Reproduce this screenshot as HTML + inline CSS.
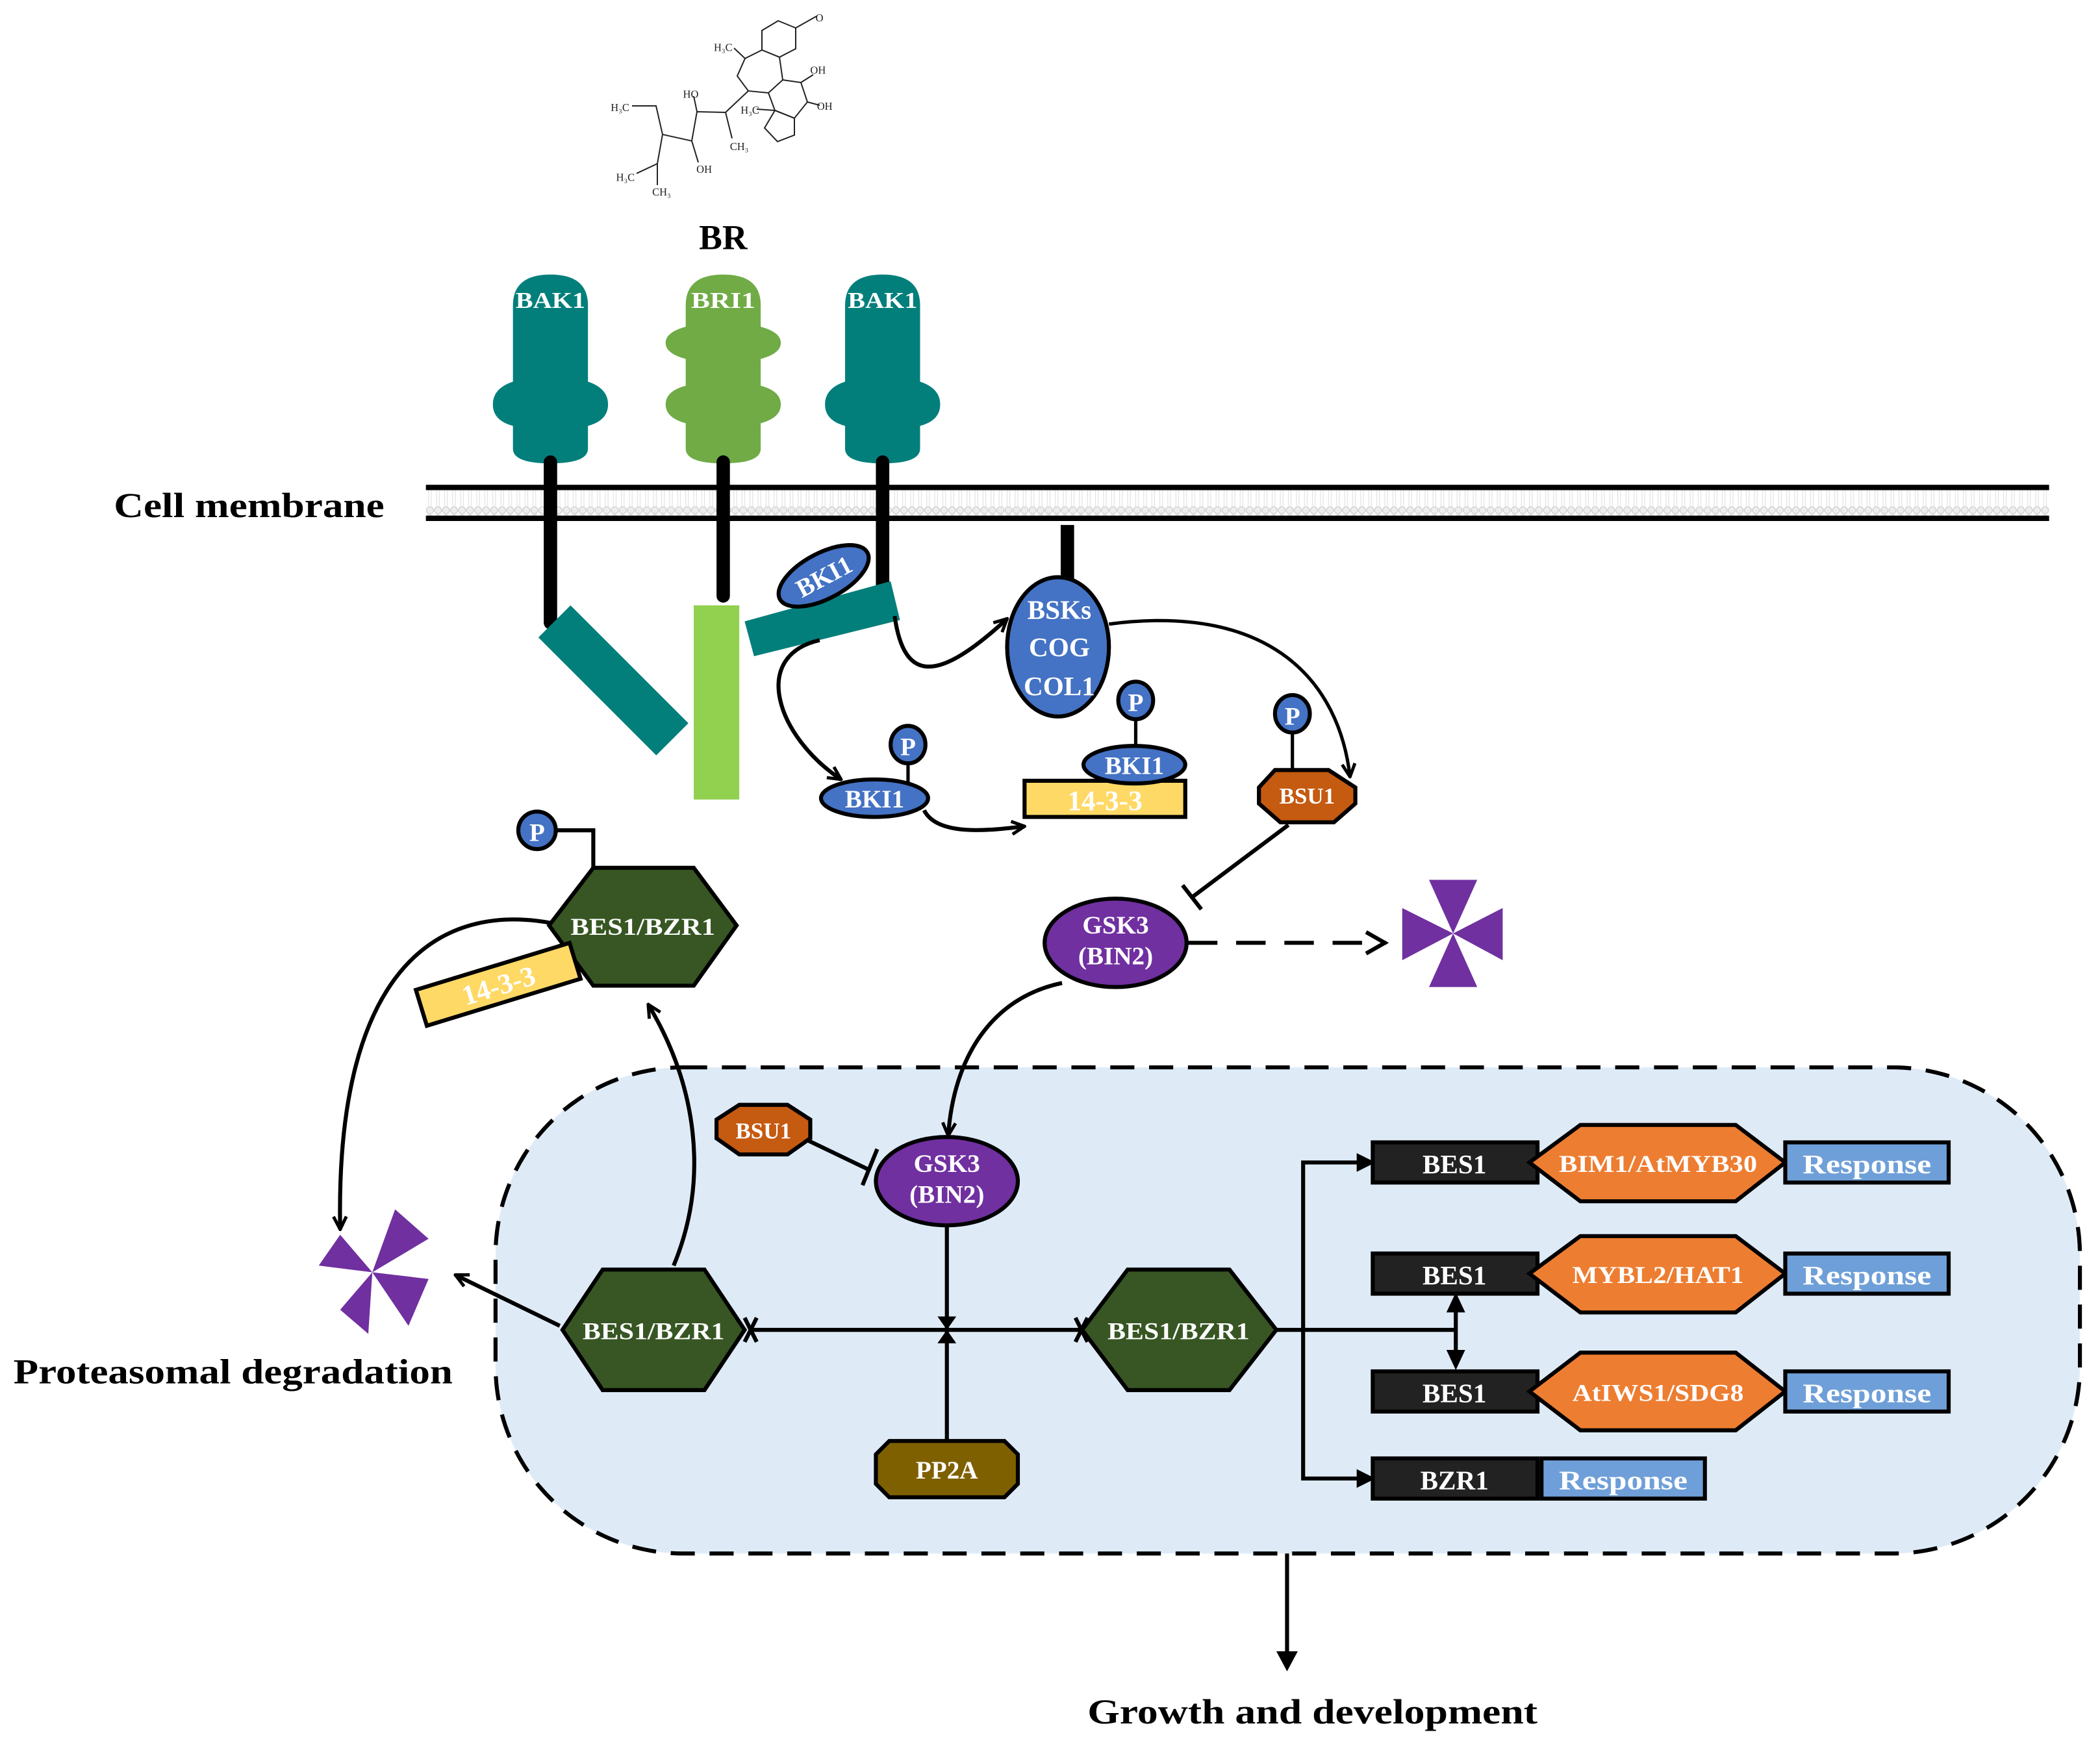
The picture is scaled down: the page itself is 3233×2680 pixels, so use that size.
<!DOCTYPE html>
<html><head><meta charset="utf-8"><style>
html,body{margin:0;padding:0;background:#fff;}
svg{display:block;}
text{font-family:"Liberation Serif",serif;font-weight:bold;}
</style></head><body>
<svg width="3233" height="2680" viewBox="0 0 1568 1300" preserveAspectRatio="none" xmlns="http://www.w3.org/2000/svg">
<defs>
<marker id="ar" viewBox="0 0 10 10" refX="9" refY="5" markerWidth="12" markerHeight="12" orient="auto" markerUnits="userSpaceOnUse"><path d="M1,1 L9,5 L1,9" fill="none" stroke="#000" stroke-width="2"/></marker>
<pattern id="lip" width="6" height="24" patternUnits="userSpaceOnUse"><circle cx="3" cy="3" r="2.6" fill="#eee" stroke="#ccc" stroke-width="0.6"/><circle cx="3" cy="21" r="2.6" fill="#eee" stroke="#ccc" stroke-width="0.6"/><line x1="2" y1="5" x2="2" y2="19" stroke="#ddd" stroke-width="0.5"/><line x1="4" y1="5" x2="4" y2="19" stroke="#ddd" stroke-width="0.5"/></pattern>
</defs>

<!-- nucleus -->
<rect x="370" y="797" width="1183" height="363" rx="140" fill="#deebf7" stroke="#000" stroke-width="3" stroke-dasharray="18,11"/>

<!-- molecule -->
<g transform="scale(0.485)" fill="none" stroke="#222" stroke-width="2">
<polygon points="1198,32 1225,43 1225,75 1200,88 1173,77 1173,47"/>
<line x1="1225" y1="43" x2="1257" y2="25"/>
<polyline points="1173,77 1147,90 1135,117 1152,140 1183,143 1205,123 1200,88"/>
<polyline points="1205,123 1233,127 1243,157 1223,182 1193,170 1183,143"/>
<polyline points="1193,170 1223,182 1223,208 1197,218 1177,197 1193,170"/>
<line x1="1147" y1="90" x2="1130" y2="74"/>
<line x1="1193" y1="170" x2="1165" y2="168"/>
<polyline points="1152,140 1117,173 1127,213"/>
<polyline points="1117,173 1073,172 1065,217 1020,207 1010,163 973,163"/>
<line x1="1073" y1="172" x2="1068" y2="148"/>
<line x1="1065" y1="217" x2="1075" y2="250"/>
<polyline points="1020,207 1012,252 980,267"/>
<line x1="1012" y1="252" x2="1012" y2="285"/>
<line x1="1233" y1="127" x2="1252" y2="115"/>
<line x1="1243" y1="157" x2="1262" y2="162"/>
</g>
<g font-size="8" fill="#222">
<text x="609" y="16" style="font-weight:normal">O</text>
<text x="533" y="38" style="font-weight:normal">H₃C</text>
<text x="605" y="55" style="font-weight:normal">OH</text>
<text x="610" y="82" style="font-weight:normal">OH</text>
<text x="553" y="85" style="font-weight:normal">H₃C</text>
<text x="510" y="73" style="font-weight:normal">HO</text>
<text x="456" y="83" style="font-weight:normal">H₃C</text>
<text x="545" y="112" style="font-weight:normal">CH₃</text>
<text x="520" y="129" style="font-weight:normal">OH</text>
<text x="460" y="135" style="font-weight:normal">H₃C</text>
<text x="487" y="146" style="font-weight:normal">CH₃</text>
</g>

<text x="540" y="186" font-size="26" text-anchor="middle">BR</text>

<!-- membrane -->
<rect x="318" y="364" width="1212" height="24" fill="url(#lip)"/>
<line x1="318" y1="364" x2="1530" y2="364" stroke="#000" stroke-width="4"/>
<line x1="318" y1="387" x2="1530" y2="387" stroke="#000" stroke-width="4"/>
<text x="85" y="386" font-size="26" textLength="202" lengthAdjust="spacingAndGlyphs">Cell membrane</text>

<!-- receptors -->
<g fill="#037f7b">
<path d="M383,228 Q383,205 411,205 Q439,205 439,228 L439,285 Q454,290 454,302 Q454,314 439,318 L439,335 Q439,346 411,346 Q383,346 383,335 L383,318 Q368,314 368,302 Q368,290 383,285 Z"/>
<path d="M631,228 Q631,205 659,205 Q687,205 687,228 L687,285 Q702,290 702,302 Q702,314 687,318 L687,335 Q687,346 659,346 Q631,346 631,335 L631,318 Q616,314 616,302 Q616,290 631,285 Z"/>
</g>
<path fill="#70ab46" d="M512,228 Q512,205 540,205 Q568,205 568,228 L568,244 Q583,248 583,256 Q583,264 568,268 L568,288 Q583,292 583,302 Q583,312 568,316 L568,335 Q568,346 540,346 Q512,346 512,335 L512,316 Q497,312 497,302 Q497,292 512,288 L512,268 Q497,264 497,256 Q497,248 512,244 Z"/>
<g fill="#fff" font-size="17" text-anchor="middle">
<text x="411" y="230" textLength="52" lengthAdjust="spacingAndGlyphs">BAK1</text>
<text x="540" y="230" textLength="48" lengthAdjust="spacingAndGlyphs">BRI1</text>
<text x="659" y="230" textLength="52" lengthAdjust="spacingAndGlyphs">BAK1</text>
</g>
<g stroke="#000" stroke-width="10" stroke-linecap="round">
<line x1="411" y1="345" x2="411" y2="465"/>
<line x1="540" y1="345" x2="540" y2="445"/>
<line x1="659" y1="345" x2="659" y2="438"/>
<line x1="797" y1="392" x2="797" y2="432" stroke-linecap="butt"/>
</g>
<polygon points="402,476 426,452 514,540 490,564" fill="#037f7b"/>
<rect x="518" y="452" width="34" height="145" fill="#92d050"/>
<polygon points="556,464 665,434 672,463 563,490" fill="#037f7b"/>
<ellipse cx="615" cy="430" rx="37" ry="17" transform="rotate(-28 615 430)" fill="#4472c4" stroke="#000" stroke-width="3"/>
<text x="615" y="437" font-size="19" fill="#fff" text-anchor="middle" transform="rotate(-28 615 430)">BKI1</text>

<!-- BSKs -->
<ellipse cx="790" cy="483" rx="38" ry="52" fill="#4472c4" stroke="#000" stroke-width="3"/>
<g fill="#fff" font-size="20" text-anchor="middle">
<text x="791" y="462">BSKs</text><text x="791" y="490">COG</text><text x="791" y="519">COL1</text>
</g>

<g fill="none" stroke="#000" stroke-width="3">
<path d="M668,460 C675,510 700,510 752,462" marker-end="url(#ar)"/>
<path d="M612,478 C560,490 580,550 628,582" marker-end="url(#ar)"/>
<path d="M690,605 C700,625 740,620 765,617" marker-end="url(#ar)"/>
<path d="M828,466 C950,450 1000,510 1008,580" marker-end="url(#ar)" stroke-width="2.5"/>
<line x1="962" y1="616" x2="890" y2="670"/>
<line x1="883" y1="661" x2="897" y2="679"/>
<path d="M887,704 L1035,704" stroke-dasharray="22,14"/>
<path d="M1020,696 L1034,704 L1020,712"/>
<path d="M793,734 C740,745 712,790 708,848" marker-end="url(#ar)"/>
</g>

<!-- BKI1 P -->
<line x1="678" y1="565" x2="678" y2="585" stroke="#000" stroke-width="2.5"/>
<ellipse cx="678" cy="556" rx="13" ry="14" fill="#4472c4" stroke="#000" stroke-width="3"/>
<text x="678" y="564" font-size="19" fill="#fff" text-anchor="middle">P</text>
<ellipse cx="653" cy="596" rx="40" ry="14" fill="#4472c4" stroke="#000" stroke-width="3"/>
<text x="653" y="603" font-size="19" fill="#fff" text-anchor="middle">BKI1</text>

<rect x="765" y="583" width="120" height="27" fill="#ffd966" stroke="#000" stroke-width="3"/>
<text x="825" y="605" font-size="21" fill="#fff" text-anchor="middle">14-3-3</text>
<line x1="848" y1="535" x2="848" y2="560" stroke="#000" stroke-width="2.5"/>
<ellipse cx="848" cy="523" rx="13" ry="14" fill="#4472c4" stroke="#000" stroke-width="3"/>
<text x="848" y="531" font-size="19" fill="#fff" text-anchor="middle">P</text>
<ellipse cx="847" cy="571" rx="38" ry="14" fill="#4472c4" stroke="#000" stroke-width="3"/>
<text x="847" y="578" font-size="19" fill="#fff" text-anchor="middle">BKI1</text>

<!-- BSU1 top -->
<line x1="965" y1="545" x2="965" y2="578" stroke="#000" stroke-width="2.5"/>
<ellipse cx="965" cy="533" rx="13" ry="14" fill="#4472c4" stroke="#000" stroke-width="3"/>
<text x="965" y="541" font-size="19" fill="#fff" text-anchor="middle">P</text>
<polygon points="952,575 992,575 1012,588 1012,600 996,614 956,614 940,600 940,588" fill="#c55a11" stroke="#000" stroke-width="3"/>
<text x="976" y="600" font-size="17" fill="#fff" text-anchor="middle">BSU1</text>

<!-- GSK3 top -->
<ellipse cx="833" cy="704" rx="53" ry="33" fill="#7030a0" stroke="#000" stroke-width="3"/>
<text x="833" y="697" font-size="19" fill="#fff" text-anchor="middle">GSK3</text>
<text x="833" y="720" font-size="19" fill="#fff" text-anchor="middle">(BIN2)</text>

<!-- pinwheel right -->
<g fill="#7030a0">
<polygon points="1067,657 1103,657 1085,697"/>
<polygon points="1122,678 1122,717 1085,697"/>
<polygon points="1067,737 1103,737 1085,697"/>
<polygon points="1047,678 1047,717 1085,697"/>
</g>

<!-- upper BES1/BZR1 -->
<polyline points="401,620 443,620 443,650" fill="none" stroke="#000" stroke-width="3"/>
<ellipse cx="401" cy="620" rx="14" ry="14" fill="#4472c4" stroke="#000" stroke-width="3"/>
<text x="401" y="628" font-size="19" fill="#fff" text-anchor="middle">P</text>
<path d="M420,691 C330,670 250,720 254,918" fill="none" stroke="#000" stroke-width="3" marker-end="url(#ar)"/>
<polygon points="443,648 518,648 550,691 518,736 443,736 410,691" fill="#375623" stroke="#000" stroke-width="3"/>
<text x="480" y="698" font-size="18" fill="#fff" text-anchor="middle" textLength="108" lengthAdjust="spacingAndGlyphs">BES1/BZR1</text>
<g transform="rotate(-17 372 735)">
<rect x="312" y="721" width="120" height="28" fill="#ffd966" stroke="#000" stroke-width="3"/>
<text x="372" y="743" font-size="21" fill="#fff" text-anchor="middle">14-3-3</text>
</g>

<!-- left pinwheel -->
<g fill="#7030a0">
<polygon points="254,922 238,945 278,950"/>
<polygon points="295,903 320,925 278,950"/>
<polygon points="320,955 305,990 278,950"/>
<polygon points="254,978 275,996 278,950"/>
</g>
<text x="10" y="1033" font-size="26" textLength="328" lengthAdjust="spacingAndGlyphs">Proteasomal degradation</text>

<g fill="none" stroke="#000" stroke-width="3">
<path d="M503,945 C530,880 520,810 484,750" marker-end="url(#ar)"/>
<line x1="418" y1="990" x2="340" y2="952" marker-end="url(#ar)"/>
<line x1="560" y1="993" x2="808" y2="993"/>
<line x1="565" y1="984" x2="556" y2="1002"/><line x1="556" y1="984" x2="565" y2="1002"/>
<line x1="803" y1="984" x2="812" y2="1002"/><line x1="812" y1="984" x2="803" y2="1002"/>
<line x1="707" y1="915" x2="707" y2="1077"/>
<line x1="600" y1="850" x2="650" y2="874"/>
<line x1="655" y1="858" x2="644" y2="885"/>
<line x1="953" y1="993" x2="1087" y2="993"/>
<polyline points="1025,868 973,868 973,1104 1025,1104"/>
<line x1="1087" y1="975" x2="1087" y2="1012"/>
<line x1="961" y1="1160" x2="961" y2="1235"/>
</g>
<polygon points="700,983 714,983 707,993" fill="#000"/>
<polygon points="700,1003 714,1003 707,993" fill="#000"/>
<g fill="#000">
<polygon points="1013,861 1027,868 1013,875"/>
<polygon points="1013,1097 1027,1104 1013,1111"/>
<polygon points="1080,980 1094,980 1087,965"/>
<polygon points="1080,1008 1094,1008 1087,1023"/>
<polygon points="953,1233 969,1233 961,1248"/>
</g>

<!-- BSU1 lower -->
<polygon points="552,825 588,825 605,836 605,850 588,862 552,862 535,850 535,836" fill="#c55a11" stroke="#000" stroke-width="3"/>
<text x="570" y="850" font-size="17" fill="#fff" text-anchor="middle">BSU1</text>

<!-- GSK3 lower -->
<ellipse cx="707" cy="882" rx="53" ry="33" fill="#7030a0" stroke="#000" stroke-width="3"/>
<text x="707" y="875" font-size="19" fill="#fff" text-anchor="middle">GSK3</text>
<text x="707" y="898" font-size="19" fill="#fff" text-anchor="middle">(BIN2)</text>

<!-- hexes lower -->
<polygon points="450,948 526,948 556,993 526,1038 450,1038 420,993" fill="#375623" stroke="#000" stroke-width="3"/>
<text x="488" y="1000" font-size="18" fill="#fff" text-anchor="middle" textLength="106" lengthAdjust="spacingAndGlyphs">BES1/BZR1</text>
<polygon points="842,948 918,948 953,993 918,1038 842,1038 808,993" fill="#375623" stroke="#000" stroke-width="3"/>
<text x="880" y="1000" font-size="18" fill="#fff" text-anchor="middle" textLength="106" lengthAdjust="spacingAndGlyphs">BES1/BZR1</text>

<!-- PP2A -->
<polygon points="664,1076 750,1076 760,1086 760,1108 750,1118 664,1118 654,1108 654,1086" fill="#7f6000" stroke="#000" stroke-width="3"/>
<text x="707" y="1104" font-size="19" fill="#fff" text-anchor="middle">PP2A</text>

<!-- targets -->
<g stroke="#000" stroke-width="3">
<rect x="1025" y="853" width="123" height="30" fill="#222"/>
<rect x="1025" y="936" width="123" height="30" fill="#222"/>
<rect x="1025" y="1024" width="123" height="30" fill="#222"/>
<rect x="1025" y="1089" width="123" height="30" fill="#222"/>
<polygon points="1180,840 1296,840 1333,868 1296,897 1180,897 1142,868" fill="#ed7d31"/>
<polygon points="1180,923 1296,923 1333,951 1296,980 1180,980 1142,951" fill="#ed7d31"/>
<polygon points="1180,1010 1296,1010 1333,1039 1296,1068 1180,1068 1142,1039" fill="#ed7d31"/>
<rect x="1333" y="853" width="122" height="30" fill="#6f9fd8"/>
<rect x="1333" y="936" width="122" height="30" fill="#6f9fd8"/>
<rect x="1333" y="1024" width="122" height="30" fill="#6f9fd8"/>
<rect x="1151" y="1089" width="122" height="30" fill="#6f9fd8"/>
</g>
<g fill="#fff" font-size="20" text-anchor="middle">
<text x="1086" y="876">BES1</text>
<text x="1086" y="959">BES1</text>
<text x="1086" y="1047">BES1</text>
<text x="1086" y="1112">BZR1</text>
<text x="1238" y="875" font-size="18" textLength="148" lengthAdjust="spacingAndGlyphs">BIM1/AtMYB30</text>
<text x="1238" y="958" font-size="18" textLength="128" lengthAdjust="spacingAndGlyphs">MYBL2/HAT1</text>
<text x="1238" y="1046" font-size="18" textLength="128" lengthAdjust="spacingAndGlyphs">AtIWS1/SDG8</text>
<text x="1394" y="876" textLength="96" lengthAdjust="spacingAndGlyphs">Response</text>
<text x="1394" y="959" textLength="96" lengthAdjust="spacingAndGlyphs">Response</text>
<text x="1394" y="1047" textLength="96" lengthAdjust="spacingAndGlyphs">Response</text>
<text x="1212" y="1112" textLength="96" lengthAdjust="spacingAndGlyphs">Response</text>
</g>

<text x="980" y="1287" font-size="26" text-anchor="middle" textLength="336" lengthAdjust="spacingAndGlyphs">Growth and development</text>
</svg>
</body></html>
